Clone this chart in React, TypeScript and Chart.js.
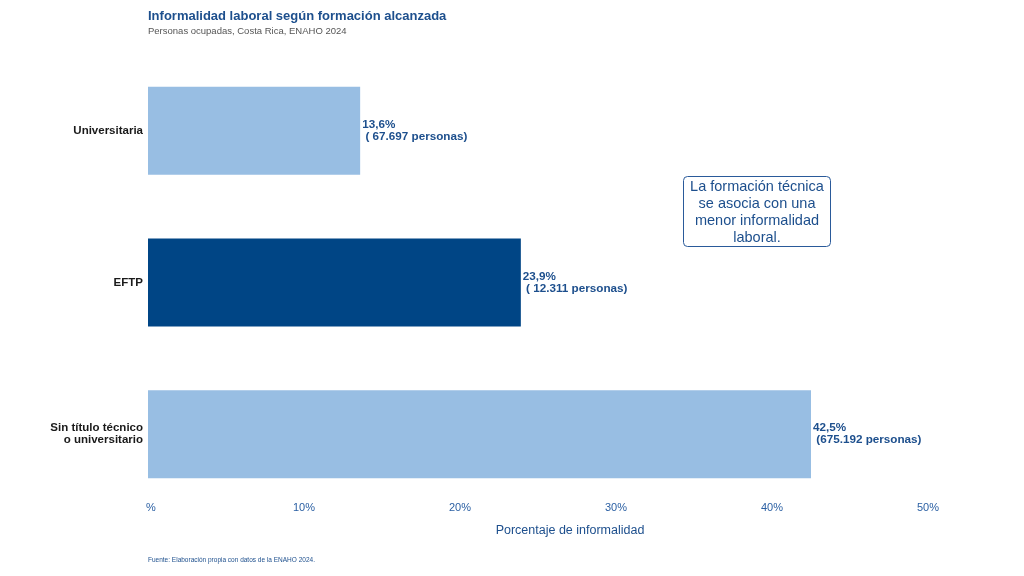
import { useEffect, useRef } from "react";
import { Chart, registerables } from "chart.js";

Chart.register(...registerables);

const categorias = ["Universitaria", "EFTP", "Sin título técnico\no universitario"];
const informalidad = [13.6, 23.9, 42.5];
const personas = [67697, 12311, 675192];
const colores = ["#98bee3", "#004585", "#98bee3"];
const xTicks = [0, 10, 20, 30, 40, 50];

const FONT = "'Liberation Sans', Arial, Helvetica, sans-serif";
const AZUL = "#1d4f8d";

const fmtPct = (v: number) => v.toFixed(1).replace(".", ",") + "%";
const fmtPers = (v: number) =>
  v.toLocaleString("de-DE").padStart(7, " ");
const fmtTick = (v: number) => (v === 0 ? "%" : v + "%");

const textPlugin = {
  id: "textos",
  afterDraw(chart: Chart) {
    const ctx = chart.ctx;
    ctx.save();
    ctx.textBaseline = "middle";

    // titulo y subtitulo
    ctx.textAlign = "left";
    ctx.fillStyle = AZUL;
    ctx.font = `bold 13px ${FONT}`;
    ctx.fillText("Informalidad laboral según formación alcanzada", 148, 16);
    ctx.fillStyle = "#555";
    ctx.font = `9.5px ${FONT}`;
    ctx.fillText("Personas ocupadas, Costa Rica, ENAHO 2024", 148, 31);

    // etiquetas de barras
    const meta = chart.getDatasetMeta(0);
    ctx.fillStyle = AZUL;
    ctx.font = `bold 11.7px ${FONT}`;
    meta.data.forEach((bar: any, i: number) => {
      const x = bar.x + 2;
      ctx.fillText(fmtPct(informalidad[i]), x, bar.y - 6);
      ctx.fillText(" (" + fmtPers(personas[i]) + " personas)", x, bar.y + 6);
    });

    // ticks eje x (dibujados aparte: quedan dentro del area del grafico)
    const xs = chart.scales.x;
    ctx.textAlign = "center";
    ctx.fillStyle = "#2a5fa3";
    ctx.font = `11px ${FONT}`;
    xTicks.forEach((v) => {
      const px = xs.getPixelForValue(v) + (v === 0 ? 3 : 0);
      ctx.fillText(fmtTick(v), px, chart.chartArea.bottom - 2);
    });

    // titulo eje x
    ctx.fillStyle = AZUL;
    ctx.font = `12.5px ${FONT}`;
    ctx.fillText("Porcentaje de informalidad", 570, 531);

    // fuente
    ctx.textAlign = "left";
    ctx.font = `6.5px ${FONT}`;
    ctx.fillText("Fuente: Elaboración propia con datos de la ENAHO 2024.", 148, 560);

    // recuadro
    const bx = 683, by = 176, bw = 147, bh = 70;
    ctx.strokeStyle = "#2a5a9a";
    ctx.lineWidth = 1;
    ctx.beginPath();
    ctx.roundRect(bx + 0.5, by + 0.5, bw, bh, 4);
    ctx.fillStyle = "#fff";
    ctx.fill();
    ctx.stroke();
    ctx.fillStyle = AZUL;
    ctx.textAlign = "center";
    ctx.font = `14.5px ${FONT}`;
    const lines = ["La formación técnica", "se asocia con una", "menor informalidad", "laboral."];
    lines.forEach((l, i) => ctx.fillText(l, bx + bw / 2 + 0.5, by + 11 + i * 17));

    ctx.restore();
  },
};

export default function App() {
  const ref = useRef<HTMLCanvasElement | null>(null);

  useEffect(() => {
    if (!ref.current) return;
    const chart = new Chart(ref.current, {
      type: "bar",
      data: {
        labels: categorias.map((c) => c.split("\n")),
        datasets: [
          {
            data: informalidad,
            backgroundColor: colores,
            barPercentage: 0.58,
            categoryPercentage: 1,
          },
        ],
      },
      options: {
        indexAxis: "y",
        animation: false,
        responsive: false,
        devicePixelRatio: 1,
        layout: { padding: { top: 55, right: 96, left: 0, bottom: 0 } },
        plugins: {
          legend: { display: false },
          tooltip: { enabled: false },
        },
        scales: {
          x: {
            min: 0,
            max: 50,
            afterFit: (s: any) => {
              s.height = 66;
            },
            grid: { display: false },
            border: { display: false },
            ticks: { display: false },
          },
          y: {
            afterFit: (s: any) => {
              s.width = 148;
            },
            grid: { display: false, drawTicks: false },
            border: { display: false },
            ticks: {
              padding: 5,
              color: "#1a1a1a",
              font: { family: FONT, size: 11.5, weight: "bold", lineHeight: 1.05 },
            },
          },
        },
      },
      plugins: [textPlugin],
    });
    return () => chart.destroy();
  }, []);

  return (
    <div style={{ position: "fixed", left: 0, top: 0, width: 1024, height: 576, background: "#fff" }}>
      <canvas ref={ref} width={1024} height={576} />
    </div>
  );
}
